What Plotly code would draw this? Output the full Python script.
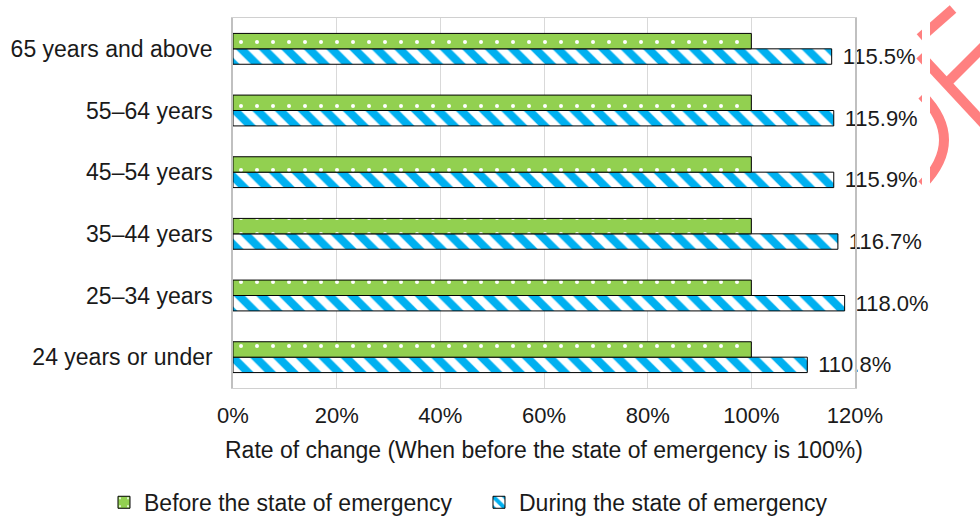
import plotly.graph_objects as go

categories = ["24 years or under", "25–34 years", "35–44 years", "45–54 years", "55–64 years", "65 years and above"]
before_vals = [100, 100, 100, 100, 100, 100]
during_vals = [110.8, 118.0, 116.7, 115.9, 115.9, 115.5]
x_ticks = [0, 20, 40, 60, 80, 100, 120]
x_tick_labels = ["0%", "20%", "40%", "60%", "80%", "100%", "120%"]

FONT = "Liberation Sans, Arial, sans-serif"
FS = 23

fig = go.Figure()
fig.add_trace(go.Bar(
    y=categories, x=during_vals, orientation="h",
    name="During the state of emergency",
    marker=dict(color="white", line=dict(color="black", width=1),
                pattern=dict(shape="\\", fgcolor="#00B0F0", bgcolor="white",
                             fgopacity=1, size=16, solidity=0.5)),
    text=[f"{v:.1f}%" for v in during_vals],
    texttemplate=" \u200a%{text}",
    textposition="outside", cliponaxis=False, constraintext="none",
    textfont=dict(size=22, color="#1a1a1a", family=FONT),
    legendrank=2,
))
fig.add_trace(go.Bar(
    y=categories, x=before_vals, orientation="h",
    name="Before the state of emergency",
    marker=dict(color="#92D050", line=dict(color="black", width=1),
                pattern=dict(shape=".", fgcolor="white", bgcolor="#92D050",
                             fgopacity=1, size=16, solidity=0.05)),
    legendrank=1,
))

fig.update_layout(
    width=980, height=518,
    margin=dict(l=233, r=125, t=18, b=130, autoexpand=False),
    barmode="group", bargap=0.5, bargroupgap=0,
    plot_bgcolor="white", paper_bgcolor="white",
    font=dict(family=FONT, size=FS, color="#1a1a1a"),
    xaxis=dict(range=[0, 120], tickvals=x_ticks, ticktext=x_tick_labels,
               showgrid=True, gridcolor="#d9d9d9", gridwidth=1,
               zeroline=False, showline=True, mirror=True, linecolor="#d0d0d0",
               ticks="", ticklabelstandoff=8, automargin=False,
               tickfont=dict(size=22),
               title=dict(text="Rate of change (When before the state of emergency is 100%)",
                          font=dict(size=FS), standoff=14)),
    yaxis=dict(showline=True, mirror=True, linecolor="#c0c0c0", linewidth=1.5, ticks="",
               ticklabelstandoff=14, showgrid=False, automargin=False),
    legend=dict(orientation="h", xref="paper", x=-0.2074, xanchor="left",
                yref="paper", y=-0.309, yanchor="middle",
                font=dict(size=FS), itemwidth=30, entrywidth=330,
                traceorder="normal"),
)

# red watermark fragment at right edge
PT, PB = 18, 388
def px_to_paper(px, py):
    return (px - 233) / 622, (PB - py) / (PB - PT)

wm_color = "#FF8080"
for (x0, y0, x1, y1) in [(953, 9, 920, 38), (920, 55, 985, 125), (985, 45, 946, 84)]:
    a = px_to_paper(x0, y0); b = px_to_paper(x1, y1)
    fig.add_shape(type="line", xref="paper", yref="paper", x0=a[0], y0=a[1], x1=b[0], y1=b[1],
                  line=dict(color=wm_color, width=10), layer="above")
p0 = px_to_paper(922, 95); pm = px_to_paper(966, 140); p1 = px_to_paper(922, 185)
fig.add_shape(type="path", xref="paper", yref="paper",
              path=f"M {p0[0]},{p0[1]} Q {pm[0]},{pm[1]} {p1[0]},{p1[1]}",
              line=dict(color=wm_color, width=10), layer="above")
m0 = px_to_paper(922, 0); m1 = px_to_paper(930, 195)
fig.add_shape(type="rect", xref="paper", yref="paper", x0=m0[0], y0=m0[1], x1=m1[0], y1=m1[1],
              fillcolor="white", line=dict(width=0), layer="above")

fig.write_html("out.html")
